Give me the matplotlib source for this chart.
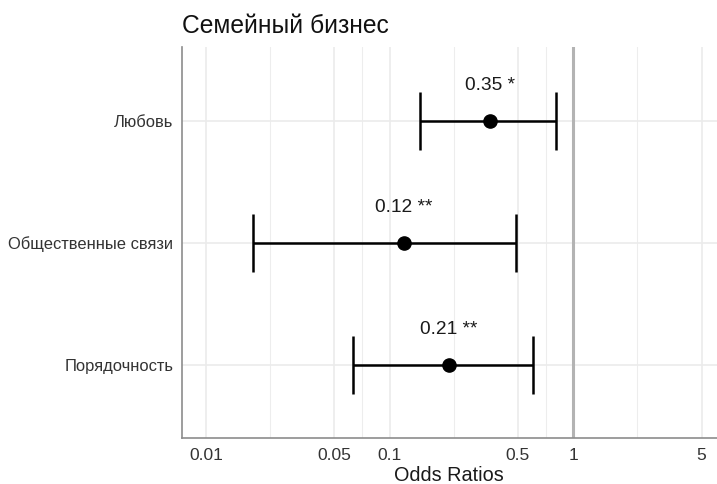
import matplotlib
matplotlib.use("Agg")
import matplotlib.pyplot as plt
import numpy as np

plt.rcParams['font.family'] = ['Liberation Sans', 'DejaVu Sans']

# data
terms = ["Любовь", "Общественные связи", "Порядочность"]
odds = [0.35, 0.12, 0.21]
ci_low = [0.146, 0.018, 0.063]
ci_high = [0.81, 0.49, 0.60]
stars = ["*", "**", "**"]

major_ticks = [0.01, 0.05, 0.1, 0.5, 1, 5]
tick_labels = ["0.01", "0.05", "0.1", "0.5", "1", "5"]

fig = plt.figure(figsize=(7.17, 4.84), dpi=100)
ax = fig.add_axes([0.2534, 0.0944, 0.7466, 0.8077])

y = np.arange(1, len(terms) + 1)
odds = np.array(odds)
err = np.vstack([odds - np.array(ci_low), np.array(ci_high) - odds])

# grid: major at ticks, minor at geometric midpoints
minor = np.sqrt(np.array(major_ticks[:-1]) * np.array(major_ticks[1:]))
for v in minor:
    ax.axvline(v, color="#ededed", lw=0.8, zorder=0)
for v in major_ticks:
    ax.axvline(v, color="#ebebeb", lw=1.2, zorder=0)
for yy in y:
    ax.axhline(yy, color="#ebebeb", lw=1.2, zorder=0)

ax.axvline(1, color="#b3b3b3", lw=2.2, zorder=1)

ax.errorbar(odds, y, xerr=err, fmt="o", color="black", ecolor="black",
            elinewidth=1.8, capsize=21, capthick=1.8, markersize=9.5, zorder=3)

for xv, yv, s in zip(odds, y, stars):
    ax.text(xv, yv - 0.29, f"{xv:.2f} {s}", ha="center", va="center",
            fontsize=13.8, color="#1a1a1a")

ax.set_xscale("log")
ax.set_xlim(0.00738, 6.06)
ax.set_ylim(3.6, 0.4)
ax.set_xticks(major_ticks)
ax.set_xticklabels(tick_labels)
ax.xaxis.set_minor_locator(matplotlib.ticker.NullLocator())
ax.set_yticks(y)
ax.set_yticklabels(terms)
ax.tick_params(axis="x", length=0, pad=7, labelsize=12.5, labelcolor="#333333")
ax.tick_params(axis="y", length=0, pad=6, labelsize=11.9, labelcolor="#333333")

for side in ["top", "right"]:
    ax.spines[side].set_visible(False)
for side in ["left", "bottom"]:
    ax.spines[side].set_color("#8c8c8c")
    ax.spines[side].set_linewidth(1.2)

ax.set_xlabel("Odds Ratios", fontsize=14.3, color="#1a1a1a", labelpad=2)
ax.set_title("Семейный бизнес", loc="left", fontsize=17.7, color="#111111", pad=10)

fig.savefig("out.png", dpi=100)
